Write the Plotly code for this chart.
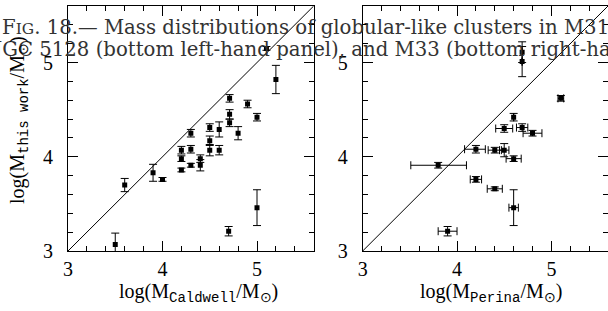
import plotly.graph_objects as go

# Left panel: Caldwell vs this work
cald_x = [5.10, 5.20, 4.71, 4.71, 4.71, 4.90, 5.00, 4.80, 4.60, 4.50, 4.50, 4.50, 4.60, 4.30,
          4.30, 4.20, 4.20, 4.20, 4.30, 4.40, 4.40, 3.90, 4.00, 3.60, 3.50, 4.70, 5.00]
cald_y = [5.15, 4.82, 4.62, 4.45, 4.36, 4.56, 4.42, 4.25, 4.29, 4.31, 4.17, 4.07, 4.07, 4.25,
          4.08, 4.07, 3.98, 3.86, 3.91, 3.98, 3.91, 3.83, 3.76, 3.70, 3.07, 3.21, 3.46]
cald_yerr = [0.02, 0.15, 0.04, 0.05, 0.04, 0.04, 0.04, 0.07, 0.08, 0.04, 0.05, 0.06, 0.05, 0.04,
             0.04, 0.04, 0.03, 0.02, 0.02, 0.04, 0.06, 0.09, 0.02, 0.07, 0.12, 0.05, 0.19]

# Right panel: Perina vs this work
per_x = [4.69, 4.69, 5.10, 4.60, 4.50, 4.69, 4.80, 4.20, 4.40, 4.50, 4.60, 3.80, 4.20, 4.40, 4.60, 3.90]
per_y = [5.11, 5.01, 4.62, 4.42, 4.30, 4.31, 4.25, 4.08, 4.07, 4.07, 3.98, 3.91, 3.76, 3.66, 3.46, 3.21]
per_xerr_plus = [0.0, 0.0, 0.03, 0.0, 0.09, 0.06, 0.10, 0.10, 0.07, 0.05, 0.08, 0.30, 0.06, 0.08, 0.05, 0.10]
per_xerr_minus = [0.0, 0.0, 0.03, 0.0, 0.09, 0.06, 0.10, 0.12, 0.07, 0.05, 0.08, 0.29, 0.06, 0.08, 0.05, 0.10]
per_yerr = [0.11, 0.16, 0.03, 0.04, 0.04, 0.04, 0.03, 0.04, 0.03, 0.07, 0.03, 0.03, 0.03, 0.02, 0.19, 0.05]

axis_range = [3, 5.6]
one_to_one = [3, 5.6]

SERIF = "Liberation Serif"
CAP_SERIF = "DejaVu Serif"
MONO = "Liberation Mono"

fig = go.Figure()

fig.add_trace(go.Scatter(x=one_to_one, y=one_to_one, mode="lines",
                         line=dict(color="black", width=1), xaxis="x", yaxis="y",
                         showlegend=False, hoverinfo="skip"))
fig.add_trace(go.Scatter(x=cald_x, y=cald_y, mode="markers",
                         marker=dict(symbol="square", size=5, color="black"),
                         error_y=dict(type="data", array=cald_yerr, color="black",
                                      thickness=1, width=4),
                         xaxis="x", yaxis="y", showlegend=False))

fig.add_trace(go.Scatter(x=one_to_one, y=one_to_one, mode="lines",
                         line=dict(color="black", width=1), xaxis="x2", yaxis="y2",
                         showlegend=False, hoverinfo="skip"))
fig.add_trace(go.Scatter(x=per_x, y=per_y, mode="markers",
                         marker=dict(symbol="square", size=5, color="black"),
                         error_y=dict(type="data", array=per_yerr, color="black",
                                      thickness=1, width=4),
                         error_x=dict(type="data", array=per_xerr_plus,
                                      arrayminus=per_xerr_minus, color="black",
                                      thickness=1, width=4),
                         xaxis="x2", yaxis="y2", showlegend=False))

def ax(domain, anchor, standoff=None):
    d = dict(domain=domain, anchor=anchor, range=axis_range, showline=True,
             linecolor="black", linewidth=1, mirror="ticks", ticks="inside",
             ticklen=10, tickwidth=1, tickcolor="black",
             tickmode="linear", tick0=3, dtick=1,
             showgrid=False, zeroline=False,
             tickfont=dict(family=SERIF, size=20, color="black"),
             minor=dict(tickmode="linear", dtick=0.2, tick0=3, ticks="inside", ticklen=5,
                        tickcolor="black", tickwidth=1, showgrid=False))
    if standoff is not None:
        d["ticklabelstandoff"] = standoff
    return d

W, H = 608, 311
ML, MR, MT, MB = 68, 0, 6, 60
PW = W - ML - MR
PH = H - MT - MB

def px(xp):
    return (xp - ML) / PW

def py(yp):
    return (H - MB - yp) / PH

fig.update_layout(
    width=W, height=H,
    margin=dict(l=ML, r=MR, t=MT, b=MB, pad=0),
    paper_bgcolor="white", plot_bgcolor="white",
    xaxis=ax([0, 0.455], "y"),
    yaxis=ax([0, 1], "x", 10),
    xaxis2=ax([0.5457, 1], "y2"),
    yaxis2=ax([0, 1], "x2", 10),
    showlegend=False,
)

cap_color = "#333333"
annotations = [
    dict(text="F<span style='font-size:15.5px'>IG</span>. 18.— Mass distributions of globular-like clusters in M31",
         x=px(0), y=py(27), xanchor="left", yanchor="middle",
         font=dict(family=CAP_SERIF, size=19.7, color=cap_color)),
    dict(text="NGC 5128 (bottom left-hand panel), and M33 (bottom right-hand panel)",
         x=px(-17), y=py(49), xanchor="left", yanchor="middle",
         font=dict(family=CAP_SERIF, size=19.7, color=cap_color)),
    dict(text="log(M<sub><span style='font-family:" + MONO + "'>this work</span></sub>/M<sub>⊙</sub>)",
         x=px(19), y=py(120), xanchor="center", yanchor="middle", textangle=-90,
         font=dict(family=SERIF, size=20, color="black")),
    dict(text="log(M<sub><span style='font-family:" + MONO + "'>Caldwell</span></sub>/M<sub>⊙</sub>)",
         x=px(198), y=py(293), xanchor="center", yanchor="middle",
         font=dict(family=SERIF, size=20, color="black")),
    dict(text="log(M<sub><span style='font-family:" + MONO + "'>Perina</span></sub>/M<sub>⊙</sub>)",
         x=px(491), y=py(293), xanchor="center", yanchor="middle",
         font=dict(family=SERIF, size=20, color="black")),
]
for a in annotations:
    a.update(xref="paper", yref="paper", showarrow=False)
fig.update_layout(annotations=annotations)

fig.write_html("out.html", config={"displayModeBar": False},
               post_script="document.body.style.margin='0px';document.body.style.padding='0px';")
